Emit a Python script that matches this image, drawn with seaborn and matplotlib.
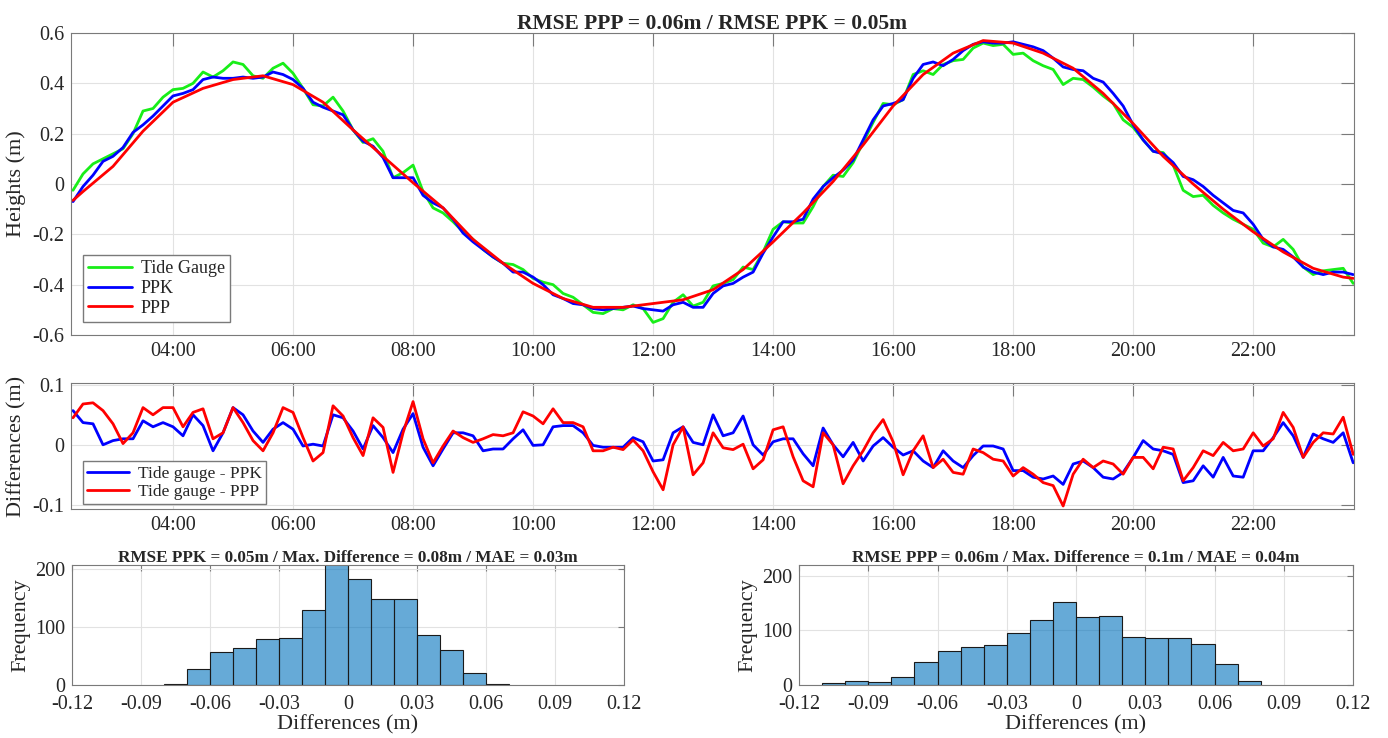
import numpy as np
import pandas as pd
import matplotlib
matplotlib.use("Agg")
import matplotlib.pyplot as plt
from matplotlib.ticker import FuncFormatter
import seaborn as sns

# %% data
# 10 min samples, 02:20 -> 23:40
times = pd.date_range("2021-01-01 02:20", "2021-01-01 23:40", freq="10min")
hours = np.asarray(times.hour + times.minute / 60.0)

tide_gauge = [
    -0.025, 0.04, 0.08, 0.10, 0.12, 0.14, 0.20, 0.29, 0.30, 0.345,
    0.375, 0.38, 0.40, 0.445, 0.425, 0.45, 0.485, 0.475, 0.43, 0.42,
    0.46, 0.48, 0.44, 0.38, 0.315, 0.31, 0.345, 0.29, 0.215, 0.165,
    0.18, 0.13, 0.025, 0.045, 0.075, -0.03, -0.095, -0.115, -0.15, -0.19,
    -0.22, -0.26, -0.29, -0.315, -0.32, -0.34,
    -0.375, -0.39, -0.40, -0.435, -0.45, -0.48,
    -0.51, -0.515, -0.495, -0.50, -0.48, -0.495,
    -0.55, -0.535, -0.47, -0.44, -0.485, -0.47,
    -0.405, -0.395, -0.38, -0.33, -0.34, -0.27,
    -0.18, -0.15, -0.155, -0.155, -0.09, -0.01,
    0.035, 0.03, 0.085, 0.165, 0.245, 0.32,
    0.315, 0.335, 0.435, 0.45,
    0.435, 0.475,
    0.49, 0.495, 0.54, 0.56, 0.55, 0.555,
    0.515, 0.52, 0.49, 0.47, 0.455, 0.395,
    0.42, 0.415, 0.385, 0.35, 0.32, 0.255,
    0.225, 0.175, 0.13, 0.125, 0.075, -0.025,
    -0.05, -0.045, -0.085, -0.115, -0.14, -0.16,
    -0.18, -0.235, -0.25, -0.22, -0.26, -0.33,
    -0.36, -0.345, -0.34, -0.335, -0.395,
]

ppk = [
    -0.07, -0.01, 0.035, 0.09, 0.11, 0.145, 0.205, 0.235, 0.27, 0.31,
    0.35, 0.36, 0.375, 0.415, 0.425, 0.42, 0.42, 0.425, 0.42, 0.425,
    0.445, 0.435, 0.415, 0.38, 0.325, 0.305, 0.29, 0.275, 0.215, 0.17,
    0.15, 0.105, 0.025, 0.025, 0.025, -0.045, -0.075, -0.095, -0.14, -0.195,
    -0.23, -0.26, -0.29, -0.315, -0.35, -0.35,
    -0.37, -0.40, -0.44, -0.455, -0.475, -0.48,
    -0.495, -0.50, -0.495, -0.49, -0.485, -0.495,
    -0.50, -0.505, -0.48, -0.47, -0.49, -0.49,
    -0.435, -0.405, -0.395, -0.37, -0.35, -0.275,
    -0.21, -0.15, -0.15, -0.14, -0.06, -0.01,
    0.025, 0.055, 0.095, 0.175, 0.255, 0.31,
    0.32, 0.335, 0.42, 0.475,
    0.485, 0.47,
    0.495, 0.53, 0.555, 0.565, 0.56, 0.56,
    0.565, 0.555, 0.545, 0.53, 0.50, 0.465,
    0.455, 0.45, 0.42, 0.405, 0.36, 0.31,
    0.235, 0.175, 0.13, 0.12, 0.085, 0.03,
    0.017, -0.01, -0.045, -0.075, -0.105, -0.115,
    -0.16, -0.22, -0.25, -0.26, -0.29, -0.33,
    -0.35, -0.36, -0.35, -0.35, -0.36,
]

# PPP is smooth, read every 30 min
ppp_times = ["02:20", "02:30", "03:00", "03:30", "04:00", "04:30", "05:00", "05:30",
             "06:00", "06:30", "07:00", "07:30", "08:00", "08:30", "09:00", "09:30",
             "10:00", "10:30", "11:00", "11:30", "12:00", "12:30", "13:00", "13:30",
             "14:00", "14:30", "15:00", "15:30", "16:00", "16:30", "17:00", "17:30",
             "18:00", "18:30", "19:00", "19:30", "20:00", "20:30", "21:00", "21:30",
             "22:00", "22:30", "23:00", "23:30", "23:40"]
ppp = [-0.065, -0.03, 0.07, 0.21, 0.325, 0.38, 0.415, 0.43,
       0.395, 0.325, 0.215, 0.11, 0.005, -0.095, -0.22, -0.315,
       -0.395, -0.455, -0.49, -0.49, -0.475, -0.46, -0.42, -0.34,
       -0.23, -0.115, 0.01, 0.155, 0.31, 0.435, 0.52, 0.57,
       0.56, 0.52, 0.46, 0.36, 0.24, 0.11, 0.0, -0.10,
       -0.19, -0.27, -0.335, -0.37, -0.375]

diff_ppk = [
    0.057, 0.037, 0.035, 0.000, 0.007, 0.010, 0.010, 0.040, 0.030, 0.037,
    0.030, 0.015, 0.050, 0.032, -0.010, 0.020, 0.062, 0.050, 0.023, 0.004,
    0.026, 0.037, 0.026, -0.002, 0.001, -0.002, 0.050, 0.045, 0.023, -0.007,
    0.032, 0.012, -0.013, 0.026, 0.052, -0.004, -0.035, -0.007, 0.020, 0.020,
    0.015, -0.010, -0.007, -0.007, 0.010, 0.025,
    -0.001, 0.000, 0.030, 0.032, 0.032, 0.020,
    -0.001, -0.004, -0.004, -0.004, 0.012, 0.005,
    -0.027, -0.025, 0.020, 0.030, 0.004, 0.000,
    0.050, 0.015, 0.020, 0.048, 0.000, -0.017,
    0.005, 0.010, 0.010, -0.015, -0.035, 0.028,
    0.000, -0.020, 0.004, -0.027, -0.002, 0.012,
    -0.004, -0.017, -0.010, -0.027,
    -0.038, -0.010,
    -0.027, -0.038, -0.018, -0.002, -0.002, -0.007,
    -0.043, -0.043, -0.054, -0.057, -0.052, -0.066,
    -0.032, -0.027, -0.038, -0.054, -0.057, -0.046,
    -0.021, 0.007, -0.007, -0.010, -0.016, -0.063,
    -0.060, -0.035, -0.054, -0.021, -0.052, -0.054,
    -0.010, -0.010, 0.012, 0.037, 0.015, -0.021,
    0.018, 0.010, 0.004, 0.020, -0.030,
]

diff_ppp = [
    0.045, 0.068, 0.070, 0.057, 0.035, 0.002, 0.020, 0.062, 0.050, 0.062,
    0.062, 0.030, 0.054, 0.060, 0.010, 0.020, 0.062, 0.037, 0.007, -0.010,
    0.020, 0.062, 0.054, 0.012, -0.027, -0.013, 0.065, 0.048, 0.012, -0.018,
    0.045, 0.029, -0.046, 0.020, 0.072, 0.010, -0.030, -0.002, 0.023, 0.012,
    0.004, 0.010, 0.017, 0.015, 0.020, 0.055,
    0.048, 0.035, 0.060, 0.037, 0.037, 0.030,
    -0.010, -0.010, -0.004, -0.008, 0.008, -0.010,
    -0.045, -0.075, 0.000, 0.030, -0.050, -0.030,
    0.020, -0.005, -0.008, 0.001, -0.040, -0.025,
    0.025, 0.030, -0.020, -0.060, -0.070, 0.020,
    0.000, -0.065, -0.035, -0.010, 0.020, 0.042,
    0.005, -0.050, -0.010, 0.015,
    -0.038, -0.024,
    -0.046, -0.049, -0.007, -0.013, -0.024, -0.027,
    -0.052, -0.038, -0.049, -0.063, -0.068, -0.102,
    -0.049, -0.024, -0.038, -0.027, -0.032, -0.049,
    -0.021, -0.021, -0.040, -0.004, -0.007, -0.060,
    -0.038, -0.010, -0.018, 0.004, -0.010, -0.007,
    0.020, -0.002, 0.010, 0.054, 0.029, -0.021,
    0.004, 0.020, 0.018, 0.046, -0.016,
]

# histograms (0.01 m bins)
ppk_edges = [-0.08, -0.07, -0.06, -0.05, -0.04, -0.03, -0.02, -0.01, 0.0,
             0.01, 0.02, 0.03, 0.04, 0.05, 0.06, 0.07]
ppk_counts = [2, 28, 57, 63, 80, 81, 129, 212, 183, 149, 149, 86, 60, 20, 2]
ppp_edges = [-0.11, -0.10, -0.09, -0.08, -0.07, -0.06, -0.05, -0.04, -0.03, -0.02,
             -0.01, 0.0, 0.01, 0.02, 0.03, 0.04, 0.05, 0.06, 0.07, 0.08]
ppp_counts = [4, 7, 6, 15, 42, 62, 69, 74, 96, 119, 153, 125, 127, 88, 86, 87, 76, 39, 8]

hour_ticks = [4, 6, 8, 10, 12, 14, 16, 18, 20, 22]
hist_ticks = [-0.12, -0.09, -0.06, -0.03, 0, 0.03, 0.06, 0.09, 0.12]

# %% style
sns.set_style("white")
plt.rcParams["font.family"] = ["Liberation Serif", "DejaVu Serif"]
plt.rcParams["axes.unicode_minus"] = False

W, H = 1388, 738
fig = plt.figure(figsize=(W / 100, H / 100), dpi=100)


def px_axes(l, t, r, b):
    return fig.add_axes([l / W, 1 - b / H, (r - l) / W, (b - t) / H])


def style(ax, ticklen):
    for s in ax.spines.values():
        s.set_color("#7a7a7a")
        s.set_linewidth(0.8)
        s.set_visible(True)
    ax.tick_params(direction="in", length=ticklen, width=0.8, color="#7a7a7a",
                   top=True, right=True, labelsize=14.5, labelcolor="#262626", pad=5)
    ax.grid(True, color="#e2e2e2", linewidth=0.8)
    ax.set_axisbelow(True)


gfmt = FuncFormatter(lambda v, p: f"{round(v, 4):g}")
hfmt = FuncFormatter(lambda v, p: f"{int(v):02d}:00")

ppp_hours = [int(s[:2]) + int(s[3:]) / 60 for s in ppp_times]

# %% heights
ax1 = px_axes(71, 33, 1354, 335)
sns.lineplot(x=hours, y=tide_gauge, ax=ax1, color="#18ee18", lw=2.0, label="Tide Gauge", estimator=None)
sns.lineplot(x=hours, y=ppk, ax=ax1, color="#0000ff", lw=2.0, label="PPK", estimator=None)
sns.lineplot(x=ppp_hours, y=ppp, ax=ax1, color="#ff0000", lw=2.0, label="PPP", estimator=None)
ax1.set_xlim(2.30, 23.68)
ax1.set_ylim(-0.6, 0.6)
ax1.set_yticks([-0.6, -0.4, -0.2, 0, 0.2, 0.4, 0.6])
ax1.yaxis.set_major_formatter(gfmt)
ax1.set_xticks(hour_ticks)
ax1.xaxis.set_major_formatter(hfmt)
style(ax1, 9.2)
ax1.set_ylabel("Heights (m)", fontsize=16)
ax1.set_xlabel("")
ax1.set_title("RMSE PPP = 0.06m / RMSE PPK = 0.05m", fontsize=15.5, fontweight="bold", pad=3)
ax1.legend(loc="lower left", bbox_to_anchor=(0.0094, 0.043), borderaxespad=0, fontsize=13,
           fancybox=False, framealpha=1, edgecolor="#7a7a7a", handlelength=2.4,
           labelspacing=0.15, borderpad=0.3, handletextpad=0.5)

# %% differences
ax2 = px_axes(71, 383, 1354, 509)
sns.lineplot(x=hours, y=diff_ppk, ax=ax2, color="#0000ff", lw=2.0, label="Tide gauge - PPK", estimator=None)
sns.lineplot(x=hours, y=diff_ppp, ax=ax2, color="#ff0000", lw=2.0, label="Tide gauge - PPP", estimator=None)
ax2.set_xlim(2.30, 23.68)
ax2.set_ylim(-0.107, 0.103)
ax2.set_yticks([-0.1, 0, 0.1])
ax2.yaxis.set_major_formatter(gfmt)
ax2.set_xticks(hour_ticks)
ax2.xaxis.set_major_formatter(hfmt)
style(ax2, 9.2)
ax2.set_ylabel("Differences (m)", fontsize=16)
ax2.set_xlabel("")
ax2.legend(loc="lower left", bbox_to_anchor=(0.0094, 0.04), borderaxespad=0, fontsize=12.5,
           fancybox=False, framealpha=1, edgecolor="#7a7a7a", handlelength=2.4,
           labelspacing=0.1, borderpad=0.25, handletextpad=0.5)

# %% histograms
panels = [
    ((72, 565, 624, 685), ppk_edges, ppk_counts, 207,
     "RMSE PPK = 0.05m / Max. Difference = 0.08m / MAE = 0.03m"),
    ((799, 565, 1353, 685), ppp_edges, ppp_counts, 220,
     "RMSE PPP = 0.06m / Max. Difference = 0.1m / MAE = 0.04m"),
]
for box, edges, counts, ytop, title in panels:
    ax = px_axes(*box)
    centers = [(a + b) / 2 for a, b in zip(edges[:-1], edges[1:])]
    sns.histplot(x=centers, weights=counts, bins=edges, ax=ax, color="#0072BD",
                 alpha=0.6, edgecolor="#1a1a1a", linewidth=0.8)
    ax.set_xlim(-0.12, 0.12)
    ax.set_ylim(0, ytop)
    ax.set_xticks(hist_ticks)
    ax.xaxis.set_major_formatter(gfmt)
    ax.set_yticks([0, 100, 200])
    style(ax, 4)
    ax.tick_params(axis="x", pad=7)
    ax.set_xlabel("Differences (m)", fontsize=16, labelpad=1)
    ax.set_ylabel("Frequency", fontsize=16, labelpad=3)
    ax.set_title(title, fontsize=12.3, fontweight="bold", pad=2)

fig.savefig("out.png", dpi=100)
